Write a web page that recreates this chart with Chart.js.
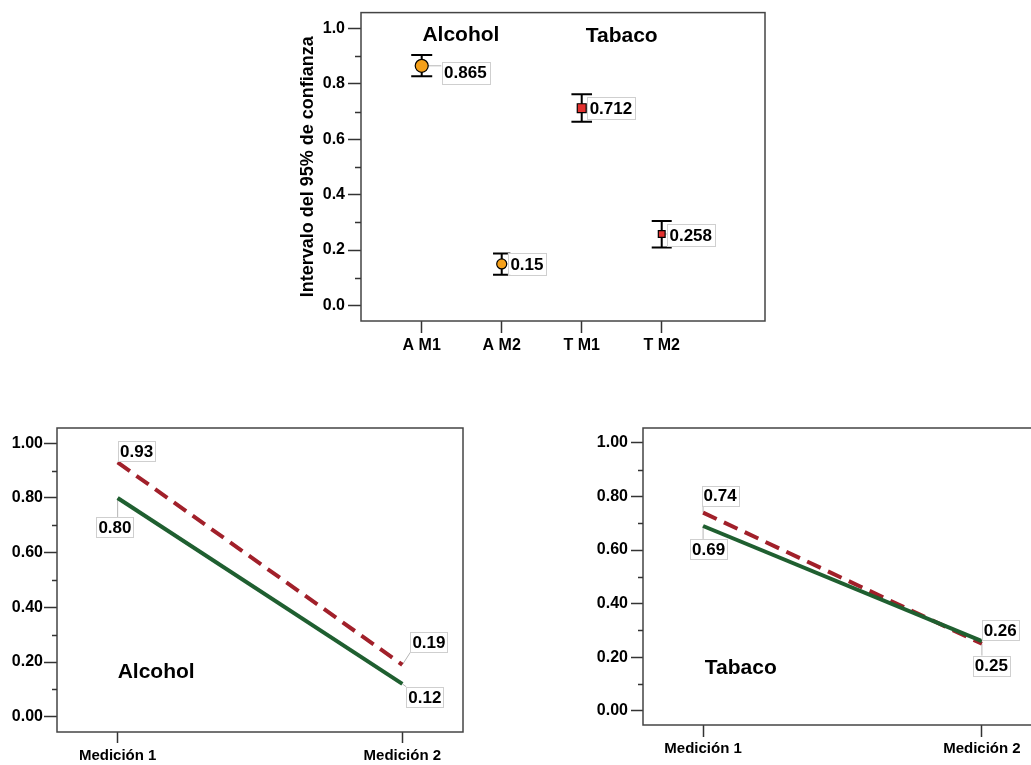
<!DOCTYPE html>
<html><head><meta charset="utf-8">
<script src="https://cdn.jsdelivr.net/npm/chart.js@4.4.1/dist/chart.umd.min.js"></script>
<style>
html,body{margin:0;padding:0;background:#fff;overflow:hidden;}
#wrap{position:relative;width:1031px;height:765px;overflow:hidden;background:#fff;}
canvas{position:absolute;}
</style></head><body>
<div id="wrap">
<canvas id="c1" width="490" height="370" style="left:290px;top:0px;width:490px;height:370px"></canvas>
<canvas id="c2" width="520" height="365" style="left:0px;top:400px;width:520px;height:365px"></canvas>
<canvas id="c3" width="500" height="365" style="left:560px;top:400px;width:500px;height:365px"></canvas>
</div>
<script>
// ---------- DATA ----------
const topCategories = ['A M1', 'A M2', 'T M1', 'T M2'];
const alcoholMeans = [0.865, 0.15, null, null];
const tabacoMeans = [null, null, 0.712, 0.258];
const ciLower = [0.827, 0.111, 0.663, 0.209];
const ciUpper = [0.904, 0.188, 0.762, 0.305];
const topGroupTitles = ['Alcohol', 'Tabaco'];
const yTicksTop = [0, 0.2, 0.4, 0.6, 0.8, 1.0];
const yMinorTicks = [0.1, 0.3, 0.5, 0.7, 0.9];

const measureLabels = ['Medición 1', 'Medición 2'];
const alcoholGreen = [0.80, 0.12];
const alcoholRed = [0.93, 0.19];
const tabacoGreen = [0.69, 0.26];
const tabacoRed = [0.74, 0.25];
const yTicksBottom = [0, 0.2, 0.4, 0.6, 0.8, 1.0];

// ---------- STYLE ----------
const FONT = "'Liberation Sans', Arial, Helvetica, sans-serif";
Chart.defaults.font.family = FONT;
Chart.defaults.font.weight = 'bold';
Chart.defaults.color = '#000';
Chart.defaults.animation = false;
const TICK_COLOR = '#333';
const GREEN = '#1F5F30';
const RED = '#A1202A';

const toPts = arr => arr.map((v, i) => ({ x: i + 1, y: v }));

// frame + minor ticks
const framePlugin = {
  id: 'frame',
  afterDraw(chart, args, o) {
    const a = chart.chartArea, ctx = chart.ctx, y = chart.scales.y;
    ctx.save();
    ctx.strokeStyle = '#444'; ctx.lineWidth = 1.5;
    ctx.strokeRect(a.left, a.top, a.right - a.left, a.bottom - a.top);
    ctx.strokeStyle = TICK_COLOR;
    (o.minor || []).forEach(v => {
      const py = Math.round(y.getPixelForValue(v)) + 0.5;
      ctx.beginPath(); ctx.moveTo(a.left - o.minorLen, py); ctx.lineTo(a.left, py); ctx.stroke();
    });
    ctx.restore();
  }
};

// error bars
const errorBarPlugin = {
  id: 'errorBars',
  beforeDatasetsDraw(chart, args, o) {
    if (!o.lower) return;
    const ctx = chart.ctx, xs = chart.scales.x, ys = chart.scales.y;
    ctx.save(); ctx.strokeStyle = '#000'; ctx.lineWidth = 2;
    o.lower.forEach((lo, i) => {
      const px = xs.getPixelForValue(i + 1);
      const y1 = ys.getPixelForValue(lo), y2 = ys.getPixelForValue(o.upper[i]);
      const h = o.capHalf[i];
      ctx.beginPath();
      ctx.moveTo(px, y1); ctx.lineTo(px, y2);
      ctx.moveTo(px - h, y1); ctx.lineTo(px + h, y1);
      ctx.moveTo(px - h, y2); ctx.lineTo(px + h, y2);
      ctx.stroke();
    });
    ctx.restore();
  }
};

function labelBoxes(chart, o) {
  const out = [];
  const ctx = chart.ctx, xs = chart.scales.x, ys = chart.scales.y;
  ctx.save();
  ctx.font = `bold ${o.size}px ${FONT}`;
  chart.data.datasets.forEach((ds, di) => {
    ds.data.forEach((d, i) => {
      if (!d || d.y == null) return;
      const off = o.offsets[di][i];
      if (!off) return;
      const px = xs.getPixelForValue(d.x), py = ys.getPixelForValue(d.y);
      const text = o.format(d.y);
      const w = ctx.measureText(text).width + 2 * o.padX, h = o.size + 2 * o.padY;
      const cx = px + off[0], cy = py + off[1];
      out.push({ px, py, text, w, h, cx, cy, bx: cx - w / 2, by: cy - h / 2 });
    });
  });
  ctx.restore();
  return out;
}

const valueLabelPlugin = {
  id: 'valueLabels',
  beforeDatasetsDraw(chart, args, o) {
    if (!o.offsets) return;
    const ctx = chart.ctx;
    ctx.save(); ctx.strokeStyle = '#b5b5b5'; ctx.lineWidth = 1;
    labelBoxes(chart, o).forEach(b => {
      const qx = Math.max(b.bx, Math.min(b.px, b.bx + b.w));
      const qy = Math.max(b.by, Math.min(b.py, b.by + b.h));
      ctx.beginPath(); ctx.moveTo(b.px, b.py); ctx.lineTo(qx, qy); ctx.stroke();
    });
    ctx.restore();
  },
  afterDatasetsDraw(chart, args, o) {
    if (!o.offsets) return;
    const ctx = chart.ctx;
    ctx.save();
    labelBoxes(chart, o).forEach(b => {
      ctx.fillStyle = '#fff';
      ctx.fillRect(b.bx, b.by, b.w, b.h);
      ctx.strokeStyle = '#cfcfcf'; ctx.lineWidth = 1;
      ctx.strokeRect(Math.round(b.bx) + 0.5, Math.round(b.by) + 0.5, Math.round(b.w), Math.round(b.h));
      ctx.fillStyle = '#000';
      ctx.font = `bold ${o.size}px ${FONT}`;
      ctx.textAlign = 'center'; ctx.textBaseline = 'middle';
      ctx.fillText(b.text, b.cx, b.cy + 1);
    });
    ctx.restore();
  }
};

const noteTextPlugin = {
  id: 'noteText',
  afterDatasetsDraw(chart, args, o) {
    if (!o.items) return;
    const ctx = chart.ctx, xs = chart.scales.x, ys = chart.scales.y;
    ctx.save();
    ctx.fillStyle = '#000'; ctx.textBaseline = 'middle';
    ctx.font = `bold ${o.size}px ${FONT}`;
    o.items.forEach(it => {
      ctx.textAlign = it.align || 'center';
      ctx.fillText(it.text, xs.getPixelForValue(it.x), ys.getPixelForValue(it.y));
    });
    ctx.restore();
  }
};

const plugins = [framePlugin, errorBarPlugin, valueLabelPlugin, noteTextPlugin];

function xScale(labels, min, max, tickLen, pad, height, size) {
  return {
    type: 'linear', min, max,
    afterBuildTicks: s => { s.ticks = labels.map((c, i) => ({ value: i + 1 })); },
    ticks: { callback: v => labels[Math.round(v) - 1] ?? '', font: { size, weight: 'bold' }, color: '#000', padding: pad, maxRotation: 0, autoSkip: false },
    grid: { drawOnChartArea: false, drawTicks: true, tickLength: tickLen, tickColor: TICK_COLOR, tickWidth: 1.5 },
    border: { display: false },
    afterFit: s => { s.height = height; }
  };
}
function yScale(ticksArr, min, max, decimals, tickLen, pad, width, title) {
  const cfg = {
    min, max,
    afterBuildTicks: s => { s.ticks = ticksArr.map(v => ({ value: v })); },
    ticks: { callback: v => Number(v).toFixed(decimals), font: { size: 16, weight: 'bold' }, color: '#000', padding: pad },
    grid: { drawOnChartArea: false, drawTicks: true, tickLength: tickLen, tickColor: TICK_COLOR, tickWidth: 1.5 },
    border: { display: false },
    afterFit: s => { s.width = width; }
  };
  if (title) cfg.title = { display: true, text: title, font: { size: 18, weight: 'bold' }, color: '#000', padding: { top: 7, bottom: 0 } };
  return cfg;
}

// ---------- TOP CHART ----------
new Chart(document.getElementById('c1'), {
  type: 'scatter',
  data: {
    datasets: [
      { label: topGroupTitles[0], data: toPts(alcoholMeans), showLine: false, pointStyle: 'circle',
        pointRadius: [6.5, 5, 0, 0], backgroundColor: '#F5A01A', borderColor: '#000', borderWidth: 1.2 },
      { label: topGroupTitles[1], data: toPts(tabacoMeans), showLine: false, pointStyle: 'rect',
        pointRadius: [0, 0, 6.3, 4.8], backgroundColor: '#E3312F', borderColor: '#000', borderWidth: 1.2 }
    ]
  },
  options: {
    responsive: false, devicePixelRatio: 1, animation: false,
    layout: { padding: { top: 9, right: 15, bottom: 0, left: 0 } },
    scales: {
      x: xScale(topCategories, 0.241, 5.291, 12, 3, 49, 16),
      y: yScale(yTicksTop, -0.056, 1.057, 1, 13, 3, 71, 'Intervalo del 95% de confianza')
    },
    plugins: {
      legend: { display: false }, tooltip: { enabled: false },
      frame: { minor: yMinorTicks, minorLen: 6 },
      errorBars: { lower: ciLower, upper: ciUpper, capHalf: [10.5, 8.7, 10.3, 10] },
      valueLabels: { size: 17, padX: 2.5, padY: 2.5, format: v => String(v),
        offsets: [[[43.6, 7], [25.2, 0], null, null], [null, null, [29.2, 0], [29, 1]]] },
      noteText: { size: 21, items: [
        { text: topGroupTitles[0], x: 1.49, y: 0.976 },
        { text: topGroupTitles[1], x: 3.5, y: 0.971 } ] }
    }
  },
  plugins
});

// ---------- BOTTOM CHARTS ----------
function lineChart(id, green, red, cfg) {
  return new Chart(document.getElementById(id), {
    type: 'scatter',
    data: {
      datasets: [
        { data: toPts(green), showLine: true, borderColor: GREEN, borderWidth: 4, pointRadius: 0, tension: 0 },
        { data: toPts(red), showLine: true, borderColor: RED, borderWidth: 4, borderDash: [15, 8], pointRadius: 0, tension: 0 }
      ]
    },
    options: {
      responsive: false, devicePixelRatio: 1, animation: false,
      layout: { padding: cfg.padding },
      scales: {
        x: xScale(measureLabels, cfg.xMin, cfg.xMax, cfg.xTick, cfg.xPad, cfg.xHeight, 15),
        y: yScale(yTicksBottom, cfg.yMin, cfg.yMax, 2, cfg.yTick, cfg.yPad, cfg.yWidth)
      },
      plugins: {
        legend: { display: false }, tooltip: { enabled: false },
        frame: { minor: yMinorTicks, minorLen: 5 },
        errorBars: {},
        valueLabels: { size: 17, padX: 2, padY: 1.5, format: v => v.toFixed(2), offsets: cfg.offsets },
        noteText: { size: 21, items: [cfg.note] }
      }
    },
    plugins
  });
}

lineChart('c2', alcoholGreen, alcoholRed, {
  padding: { top: 28, right: 57, bottom: 0, left: 0 },
  xMin: 0.787, xMax: 2.213, xTick: 11, xPad: 4, xHeight: 33,
  yMin: -0.056, yMax: 1.056, yTick: 13, yPad: 1, yWidth: 57,
  offsets: [[[-2.7, 29.5], [22.5, 13]], [[19, -11], [26.6, -22.5]]],
  note: { text: topGroupTitles[0], x: 1.0, y: 0.161, align: 'left' }
});

lineChart('c3', tabacoGreen, tabacoRed, {
  padding: { top: 28, right: 18, bottom: 0, left: 0 },
  xMin: 0.7845, xMax: 2.2155, xTick: 12, xPad: 3, xHeight: 40,
  yMin: -0.0535, yMax: 1.056, yTick: 12, yPad: 3, yWidth: 83,
  offsets: [[[5.5, 23], [18.3, -11]], [[17, -17], [9.5, 22]]],
  note: { text: topGroupTitles[1], x: 1.006, y: 0.16, align: 'left' }
});
</script>
</body></html>
